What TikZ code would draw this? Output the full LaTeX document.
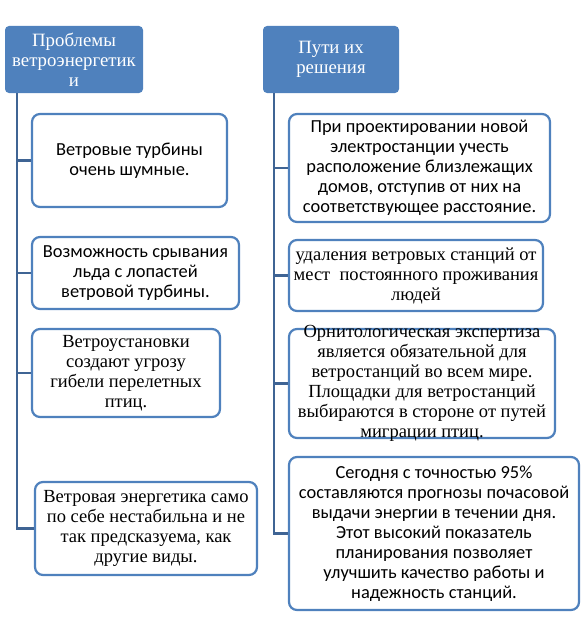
\documentclass[tikz,border=0pt]{standalone}
\usepackage{fontspec}
\setmainfont{Liberation Serif}
\newfontfamily\calibri{Carlito}
\usepackage{tikz}
\definecolor{headblue}{HTML}{4F81BD}
\definecolor{edgeblue}{HTML}{4F81BD}
\definecolor{trunkblue}{HTML}{3F6494}

\begin{document}
\begin{tikzpicture}[x=1pt,y=-1pt,
  head node/.style={rectangle,rounded corners=4pt,fill=headblue,
    text=white,font=\fontsize{18.8}{20}\selectfont,align=center,inner sep=0pt},
  item node/.style={rectangle,rounded corners=8pt,draw=edgeblue,
    line width=2.2pt,fill=white,align=center,inner sep=0pt},
  sans text/.style={font=\calibri\fontsize{18.4}{20}\selectfont},
  serif text/.style={font=\fontsize{18.5}{20}\selectfont},
  trunk/.style={draw=trunkblue,line width=2.2pt}]

  \useasboundingbox (0,0) rectangle (583,634);

  % headers
  \node[head node,minimum width=138pt,minimum height=67pt] (hl) at (74,59.5)
    {Проблемы\\ветроэнергетик\\и};
  \node[head node,minimum width=136pt,minimum height=67pt] (hr) at (331,59.5)
    {Пути их\\решения};

  % problems
  \node[item node,sans text,minimum width=195pt,minimum height=93pt] (p1) at (129.5,160.5)
    {Ветровые турбины\\очень шумные.};
  \node[item node,sans text,minimum width=207pt,minimum height=72pt] (p2) at (135.5,273)
    {Возможность срывания\\льда с лопастей\\ветровой турбины.};
  \node[item node,serif text,minimum width=188pt,minimum height=88pt] (p3) at (126,373)
    {Ветроустановки\\создают угрозу\\гибели перелетных\\птиц.};
  \node[item node,serif text,minimum width=222pt,minimum height=93pt] (p4) at (146,528.5)
    {Ветровая энергетика само\\по себе нестабильна и не\\так предсказуема, как\\другие виды.};

  % solutions
  \node[item node,sans text,minimum width=261pt,minimum height=108pt] (s1) at (419.5,168)
    {При проектировании новой\\электростанции учесть\\расположение близлежащих\\домов, отступив от них на\\соответствующее расстояние.};
  \node[item node,serif text,minimum width=254pt,minimum height=71pt] (s2) at (416,275.5)
    {удаления ветровых станций от\\мест\ \ постоянного проживания\\людей};
  \node[item node,minimum width=266pt,minimum height=109pt,
    label={[serif text,align=center]center:Орнитологическая экспертиза\\является обязательной для\\ветростанций во всем мире.\\Площадки для ветростанций\\выбираются в стороне от путей\\миграции птиц.}] (s3) at (422,383.5) {};
  \node[item node,sans text,minimum width=290pt,minimum height=153pt] (s4) at (434,533.5)
    {Сегодня с точностью 95\%\\составляются прогнозы почасовой\\выдачи энергии в течении дня.\\Этот высокий показатель\\планирования позволяет\\улучшить качество работы и\\надежность станций.};

  % trunks
  \foreach \n in {p1,p2,p3,p4}
    \draw[trunk] (hl.south west) ++(12,0) |- (\n.west);
  \foreach \n in {s1,s2,s3,s4}
    \draw[trunk] (hr.south west) ++(11,0) |- (\n.west);
\end{tikzpicture}
\end{document}
